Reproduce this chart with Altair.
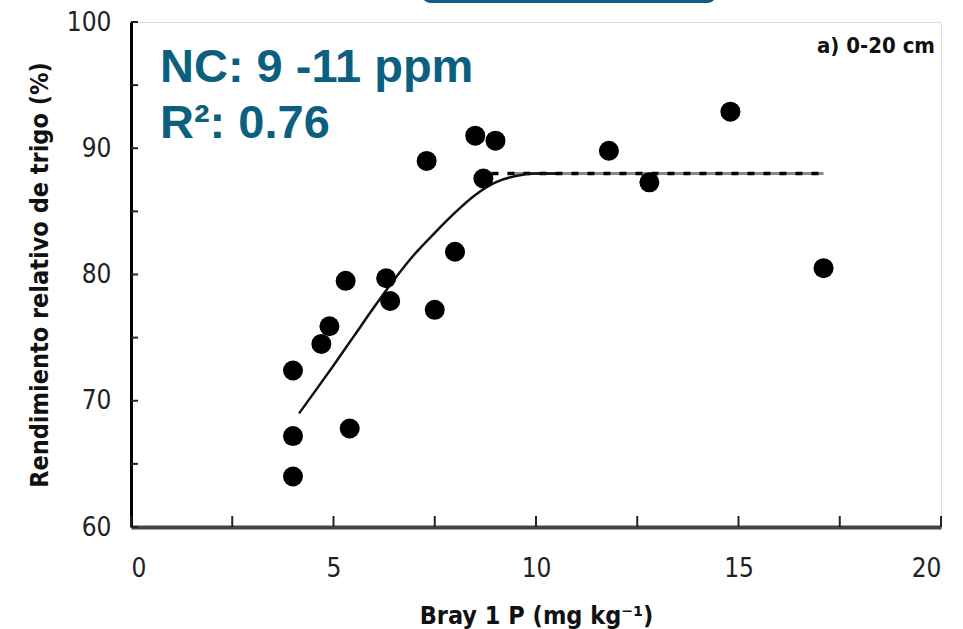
import altair as alt
import pandas as pd

p_bray = [4.0, 4.0, 4.0, 4.7, 4.9, 5.3, 5.4, 6.3, 6.4, 7.3, 7.5, 8.0, 8.5, 8.7, 9.0, 11.8, 12.8, 14.8, 17.1]
rendimiento = [64.0, 67.2, 72.4, 74.5, 75.9, 79.5, 67.8, 79.7, 77.9, 89.0, 77.2, 81.8, 91.0, 87.6, 90.6, 89.8, 87.3, 92.9, 80.5]

# Fitted curve
curve_x = [4.15, 4.6, 5.0, 5.5, 6.0, 6.5, 7.0, 7.5, 8.0, 8.5, 9.0, 9.5, 10.0, 10.5]
curve_y = [69.0, 71.0, 72.8, 75.1, 77.4, 79.6, 81.6, 83.3, 84.9, 86.3, 87.3, 87.8, 88.0, 88.0]

# Plateau (dashed)
plateau_x = [8.9, 17.1]
plateau_y = [88.0, 88.0]
plateau_grey_x = [9.3, 17.1]

x_ticks = [0, 2.5, 5, 7.5, 10, 12.5, 15, 17.5, 20]
y_ticks = [60, 65, 70, 75, 80, 85, 90, 95, 100]
x_labels = [0, 5, 10, 15, 20]
y_labels = [60, 70, 80, 90, 100]

TEAL = "#0b5f7f"
NARROW = "DejaVu Sans Condensed, Liberation Sans Narrow, Liberation Sans, Arial"
W, H = 810, 505

pts = pd.DataFrame({"x": p_bray, "y": rendimiento})
curve = pd.DataFrame({"x": curve_x, "y": curve_y})
plateau = pd.DataFrame({"x": plateau_x, "y": plateau_y})
plateau_grey = pd.DataFrame({"x": plateau_grey_x, "y": plateau_y})
xt = pd.DataFrame({"x": x_ticks})
yt = pd.DataFrame({"y": y_ticks})

xscale = alt.Scale(domain=[0, 20], nice=False, zero=False)
yscale = alt.Scale(domain=[60, 100], nice=False, zero=False)

xaxis = alt.Axis(values=x_labels, tickSize=0, labelPadding=28, grid=False,
                 domainColor="#444444", domainWidth=4,
                 labelFont=NARROW, labelFontSize=26, labelColor="#222222",
                 title="Bray 1 P (mg kg⁻¹)", titleFont=NARROW, titleFontSize=25,
                 titleFontWeight="bold", titleColor="#111111", titlePadding=22)
yaxis = alt.Axis(values=y_labels, tickSize=0, labelPadding=20, grid=False,
                 domainColor="#000000", domainWidth=3,
                 labelFont=NARROW, labelFontSize=26, labelColor="#222222",
                 title="Rendimiento relativo de trigo (%)", titleFont=NARROW,
                 titleFontSize=25, titleFontWeight="bold", titleColor="#111111",
                 titlePadding=14)

points = alt.Chart(pts).mark_circle(size=400, color="#000000", opacity=1).encode(
    x=alt.X("x:Q", scale=xscale, axis=xaxis),
    y=alt.Y("y:Q", scale=yscale, axis=yaxis),
)

curve_line = alt.Chart(curve).mark_line(color="#111111", strokeWidth=2.5,
                                         interpolate="monotone").encode(
    x=alt.X("x:Q", scale=xscale), y=alt.Y("y:Q", scale=yscale)
)
grey_line = alt.Chart(plateau_grey).mark_line(color="#8a8a8a", strokeWidth=3).encode(
    x=alt.X("x:Q", scale=xscale), y=alt.Y("y:Q", scale=yscale)
)
dash_line = alt.Chart(plateau).mark_line(color="#000000", strokeWidth=3.5,
                                          strokeDash=[7, 9]).encode(
    x=alt.X("x:Q", scale=xscale), y=alt.Y("y:Q", scale=yscale)
)

xtick_marks = alt.Chart(xt).mark_rule(color="#222222", strokeWidth=2).encode(
    x=alt.X("x:Q", scale=xscale), y=alt.value(H), y2=alt.value(H - 11)
)
ytick_marks = alt.Chart(yt).mark_rule(color="#222222", strokeWidth=2).encode(
    y=alt.Y("y:Q", scale=yscale), x=alt.value(0), x2=alt.value(7)
)

blank = alt.Data(values=[{}])
banner = alt.Chart(blank).mark_rect(color=TEAL, cornerRadius=10).encode(
    x=alt.value(290), x2=alt.value(586), y=alt.value(-40), y2=alt.value(-19)
)
nc_text = alt.Chart(blank).mark_text(
    text="NC: 9 -11 ppm", font="Liberation Sans, Arial", fontSize=47,
    fontWeight="bold", color=TEAL, align="left", baseline="alphabetic"
).encode(x=alt.value(29), y=alt.value(60))
r2_text = alt.Chart(blank).mark_text(
    text="R²: 0.76", font="Liberation Sans, Arial", fontSize=47,
    fontWeight="bold", color=TEAL, align="left", baseline="alphabetic"
).encode(x=alt.value(29), y=alt.value(116))
panel_text = alt.Chart(blank).mark_text(
    text="a) 0-20 cm", font=NARROW, fontSize=22, fontWeight="bold",
    color="#111111", align="right", baseline="alphabetic"
).encode(x=alt.value(804), y=alt.value(31))

chart = alt.layer(
    banner, grey_line, dash_line, curve_line, xtick_marks, ytick_marks,
    points, nc_text, r2_text, panel_text
).properties(
    width=W, height=H,
    autosize=alt.AutoSizeParams(type="none"),
    padding={"left": 131, "top": 22, "right": 22, "bottom": 102},
).configure_view(
    stroke="#9a9a9a", strokeWidth=3
).configure(background="#ffffff")

chart.save("out.html", embed_options={"renderer": "svg", "actions": False})
